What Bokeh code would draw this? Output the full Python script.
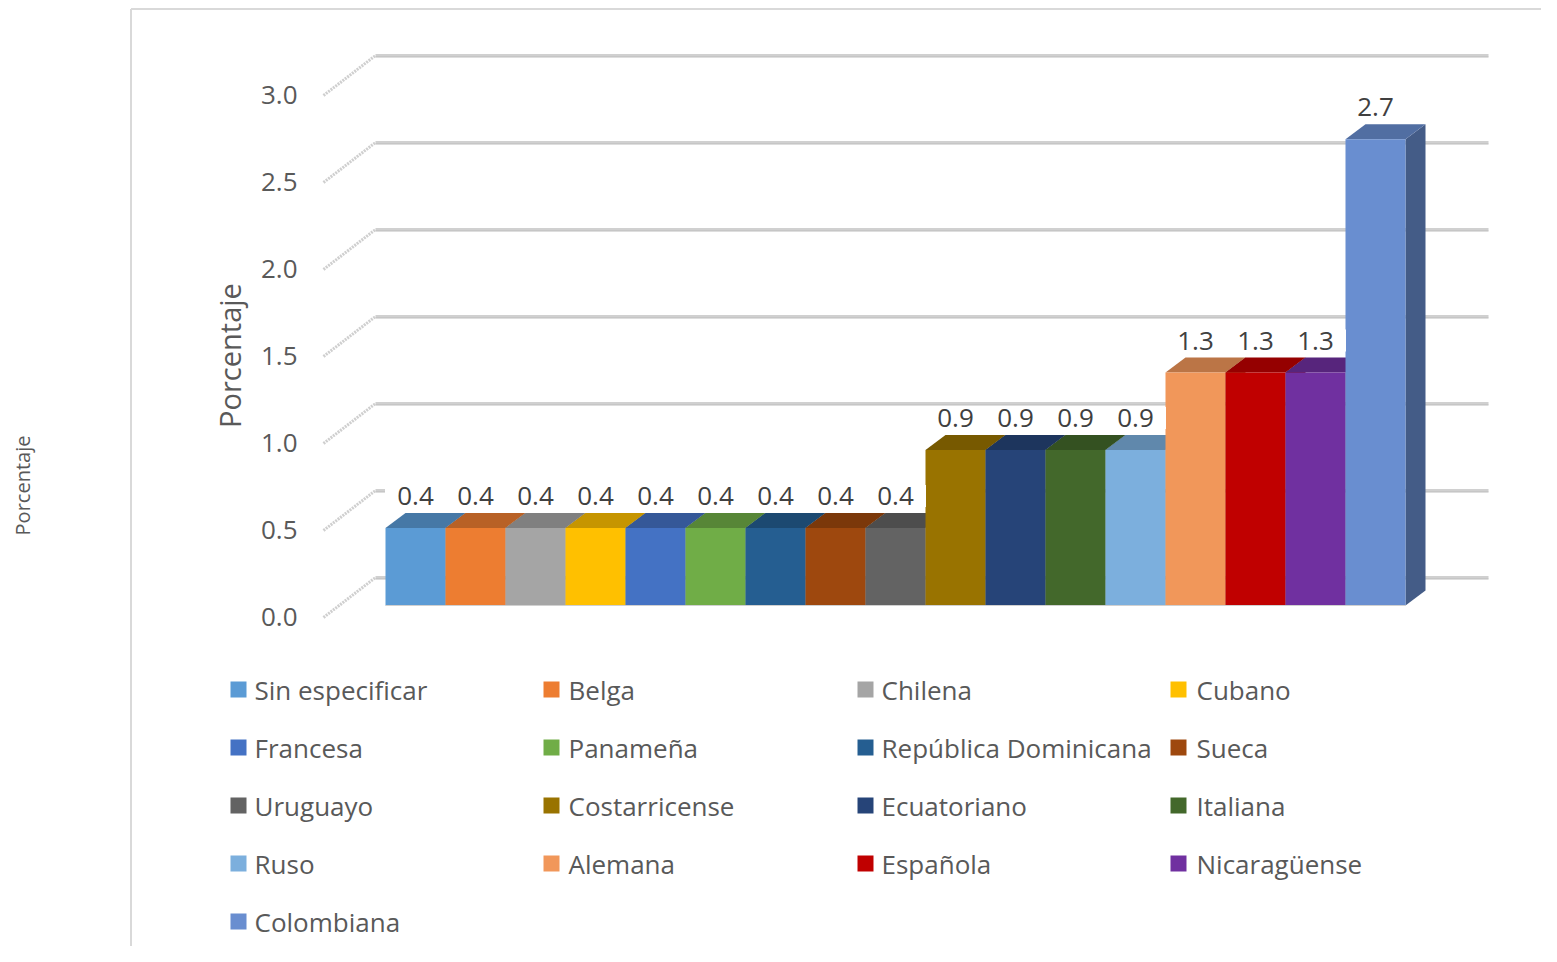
from bokeh.plotting import figure
from bokeh.models import Range1d, ColumnDataSource, Label
from bokeh.core.properties import value
from bokeh.embed import file_html
from bokeh.resources import INLINE

# ---------------- data ----------------
categories = ["Sin especificar", "Belga", "Chilena", "Cubano", "Francesa", "Panameña",
              "República Dominicana", "Sueca", "Uruguayo", "Costarricense", "Ecuatoriano",
              "Italiana", "Ruso", "Alemana", "Española", "Nicaragüense", "Colombiana"]
values = [0.446, 0.446, 0.446, 0.446, 0.446, 0.446, 0.446, 0.446, 0.446,
          0.893, 0.893, 0.893, 0.893, 1.339, 1.339, 1.339, 2.679]
colors = ["#5B9BD5", "#ED7D31", "#A5A5A5", "#FFC000", "#4472C4", "#70AD47",
          "#255E91", "#9E480E", "#636363", "#997300", "#264478", "#43682B",
          "#7CAFDD", "#F1975A", "#C00000", "#7030A0", "#698ED0"]
y_ticks = [0.0, 0.5, 1.0, 1.5, 2.0, 2.5, 3.0]
axis_title = "Porcentaje"

# ---------------- layout helpers (pixel -> data) ----------------
W, H = 1541, 946
X0_PX, BAR_PX = 415.0, 60.0      # centre of first bar, bar pitch
Y0_PX, UNIT_PX = 605.0, 174.0    # baseline of bar fronts, px per 1 %
OFF = 0                          # canvas origin in page pixels


def X(px):
    return (px - X0_PX) / BAR_PX


def Y(py):
    return (Y0_PX - py) / UNIT_PX


DX = 20.0 / BAR_PX   # bar depth offset
DY = 15.0 / UNIT_PX

FONT = value("Open Sans")
GREY = "#595959"


def shade(hexcol, f):
    h = hexcol.lstrip("#")
    r, g, b = (int(h[i:i + 2], 16) for i in (0, 2, 4))
    return "#%02x%02x%02x" % (int(r * f), int(g * f), int(b * f))


p = figure(width=W, height=H, output_backend="svg", toolbar_location=None,
           x_range=Range1d(X(OFF), X(OFF + W)), y_range=Range1d(Y(OFF + H), Y(OFF)),
           x_axis_location=None, y_axis_location=None, min_border=0)
p.outline_line_color = None
p.xgrid.visible = False
p.ygrid.visible = False
p.background_fill_color = "white"

# chart-area border (left and top)
p.line([X(130.5), X(130.5)], [Y(8.5), Y(980)], line_color="#d9d9d9", line_width=2)
p.line([X(130.5), X(1580)], [Y(8.5), Y(8.5)], line_color="#d9d9d9", line_width=2)

# back wall gridlines + left wall diagonals
back_off = 28.0 / UNIT_PX
front_off = -12.0 / UNIT_PX
for t in y_ticks:
    p.line([X(375), X(1488)], [t + back_off, t + back_off], line_color="#d0d0d0", line_width=3)
    p.line([X(375), X(1488)], [t + back_off - 1.5 / UNIT_PX] * 2, line_color="#bdbdbd", line_width=1)
    p.line([X(323), X(375)], [t + front_off, t + back_off], line_color="#cfcfcf",
           line_width=3, line_dash="2 1")

# bars (side faces, top faces, front faces)
n = len(values)
xs_side, ys_side, xs_top, ys_top = [], [], [], []
for i, v in enumerate(values):
    xs_side.append([i + 0.5, i + 0.5, i + 0.5 + DX, i + 0.5 + DX])
    ys_side.append([0, v, v + DY, DY])
    xs_top.append([i - 0.5, i + 0.5, i + 0.5 + DX, i - 0.5 + DX])
    ys_top.append([v, v, v + DY, v + DY])

p.patches(xs_side, ys_side, fill_color=[shade(c, 0.65) for c in colors], line_color=None)
p.patches(xs_top, ys_top, fill_color=[shade(c, 0.78) for c in colors], line_color=None)
src = ColumnDataSource(dict(left=[i - 0.5 for i in range(n)], right=[i + 0.5 for i in range(n)],
                            top=values, bottom=[0] * n, color=colors,
                            x=list(range(n)), ly=[v + 32.0 / UNIT_PX for v in values],
                            label=["%.1f" % v for v in values]))
p.quad(left="left", right="right", top="top", bottom="bottom", fill_color="color",
       line_color=None, source=src)
p.line([-0.5, n - 0.5], [0, 0], line_color="#d0d0d0", line_width=1)

# data labels (white boxes behind, as in the original)
p.rect(x="x", y="ly", width=61, height=22, width_units="screen", height_units="screen",
       fill_color="white", line_color=None, source=src)
p.text(x="x", y="ly", text="label", source=src, text_font=FONT, text_font_size="26px",
       text_color="#404040", text_align="center", text_baseline="middle")

# y tick labels (front plane)
for t in y_ticks:
    p.add_layout(Label(x=X(297), y=Y(616 - UNIT_PX * t), text="%.1f" % t, text_font="Open Sans",
                       text_font_size="26px", text_color=GREY, text_align="right",
                       text_baseline="middle"))

# axis titles
p.add_layout(Label(x=X(229), y=Y(355), text=axis_title, angle=1.5708, text_font="Open Sans",
                   text_font_size="29px", text_color=GREY, text_align="center",
                   text_baseline="middle"))
p.add_layout(Label(x=X(22), y=Y(485), text=axis_title, angle=1.5708, text_font="Open Sans",
                   text_font_size="20px", text_color=GREY, text_align="center",
                   text_baseline="middle"))

# legend
col_marker = [238, 551, 865, 1178]
col_text = [254, 568, 881, 1196]
lx, ly, tx = [], [], []
for k in range(n):
    c, r = k % 4, k // 4
    lx.append(X(col_marker[c]))
    ly.append(Y(689 + 58 * r))
    tx.append(X(col_text[c]))
leg = ColumnDataSource(dict(mx=lx, my=ly, tx=tx, name=categories, color=colors))
p.scatter(x="mx", y="my", marker="square", size=16, fill_color="color", line_color=None, source=leg)
p.text(x="tx", y="my", text="name", source=leg, text_font=FONT, text_font_size="26px",
       text_color=GREY, text_align="left", text_baseline="middle")

open("out.html", "w").write(file_html(p, INLINE))
